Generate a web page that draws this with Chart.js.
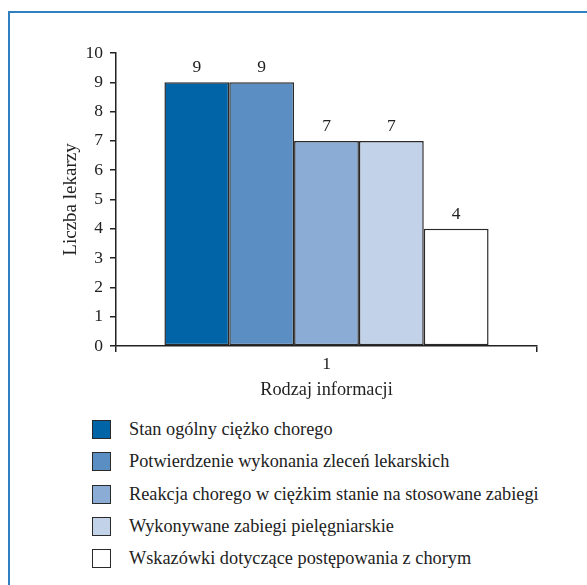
<!DOCTYPE html>
<html>
<head>
<meta charset="utf-8">
<script src="https://cdn.jsdelivr.net/npm/chart.js@4/dist/chart.umd.min.js"></script>
<style>
  html, body { margin: 0; padding: 0; background: #fff; }
  body { width: 587px; height: 585px; position: relative; overflow: hidden; }
  #frame { position: absolute; left: 8px; top: 11px; width: 700px; height: 700px;
           border-left: 2px solid #2f7fc1; border-top: 2px solid #2f7fc1; }
  #wrap { position: absolute; left: 0; top: 0; width: 587px; height: 410px; }
  #legend { position: absolute; left: 92px; top: 420px; margin: 0; padding: 0; list-style: none;
            font-family: "Liberation Serif", serif; font-size: 18.3px; color: #222; }
  #legend li { height: 32.3px; display: flex; align-items: flex-start; }
  #legend .box { width: 19px; height: 19px; box-sizing: border-box; border: 1.5px solid #2a2a2a; flex: none; }
  #legend .txt { margin-left: 18px; line-height: 19px; white-space: nowrap; }
</style>
</head>
<body>
<div id="frame"></div>
<div id="wrap"><canvas id="chart" width="587" height="410"></canvas></div>
<ul id="legend"></ul>
<script>
// Category, series and axis text
const categories = ["1"];
const seriesNames = [
  "Stan ogólny ciężko chorego",
  "Potwierdzenie wykonania zleceń lekarskich",
  "Reakcja chorego w ciężkim stanie na stosowane zabiegi",
  "Wykonywane zabiegi pielęgniarskie",
  "Wskazówki dotyczące postępowania z chorym"
];
const seriesValues = [9, 9, 7, 7, 4];
const seriesColors = ["#0064a6", "#5b8fc3", "#8badd5", "#c1d2e9", "#ffffff"];
const yTitle = "Liczba lekarzy";
const xTitle = "Rodzaj informacji";

const serif = "'Liberation Serif', serif";
const ink = "#222";

const datasets = seriesNames.map((name, i) => ({
  label: name,
  data: [seriesValues[i]],
  backgroundColor: seriesColors[i],
  borderColor: "#2a2a2a",
  borderWidth: 1.5,
  borderSkipped: false
}));

// Value printed above each bar
const valueLabels = {
  id: "valueLabels",
  afterDatasetsDraw(chart) {
    const ctx = chart.ctx;
    ctx.save();
    ctx.font = "17.5px " + serif;
    ctx.fillStyle = ink;
    ctx.textAlign = "center";
    ctx.textBaseline = "alphabetic";
    chart.data.datasets.forEach((ds, i) => {
      const meta = chart.getDatasetMeta(i);
      meta.data.forEach((bar, j) => {
        ctx.fillText(String(ds.data[j]), bar.x, bar.y - 10);
      });
    });
    ctx.restore();
  }
};

const chart = new Chart(document.getElementById("chart"), {
  type: "bar",
  data: { labels: categories, datasets },
  options: {
    responsive: false,
    animation: false,
    events: [],
    layout: { padding: { left: 0, right: 50, top: 53, bottom: 0 } },
    datasets: { bar: { categoryPercentage: 0.77, barPercentage: 1 } },
    plugins: { legend: { display: false }, tooltip: { enabled: false } },
    scales: {
      x: {
        offset: true,
        afterFit(scale) { scale.height = 64; },
        grid: { offset: true, drawOnChartArea: false, drawTicks: true, tickLength: 6, color: ink, lineWidth: 1.5 },
        border: { display: true, color: ink, width: 1.5 },
        ticks: { color: ink, font: { family: serif, size: 17.5 }, padding: 2 },
        title: { display: true, text: xTitle, color: ink, font: { family: serif, size: 18.3 }, padding: { top: 0, bottom: 9 } }
      },
      y: {
        min: 0, max: 10,
        afterFit(scale) { scale.width = 116; },
        grid: { drawOnChartArea: false, drawTicks: true, tickLength: 6, color: ink, lineWidth: 1.5 },
        border: { display: true, color: ink, width: 1.5 },
        ticks: { stepSize: 1, color: ink, font: { family: serif, size: 17.5 }, padding: 7 },
        title: { display: true, text: yTitle, color: ink, font: { family: serif, size: 19 }, padding: { top: 60, bottom: 0 } }
      }
    }
  },
  plugins: [valueLabels]
});

// Legend list built from the chart's own legend items
const legendEl = document.getElementById("legend");
chart.options.plugins.legend.labels.generateLabels(chart).forEach(item => {
  const li = document.createElement("li");
  const box = document.createElement("span");
  box.className = "box";
  box.style.background = item.fillStyle;
  const txt = document.createElement("span");
  txt.className = "txt";
  txt.textContent = item.text;
  li.appendChild(box);
  li.appendChild(txt);
  legendEl.appendChild(li);
});
</script>
</body>
</html>
